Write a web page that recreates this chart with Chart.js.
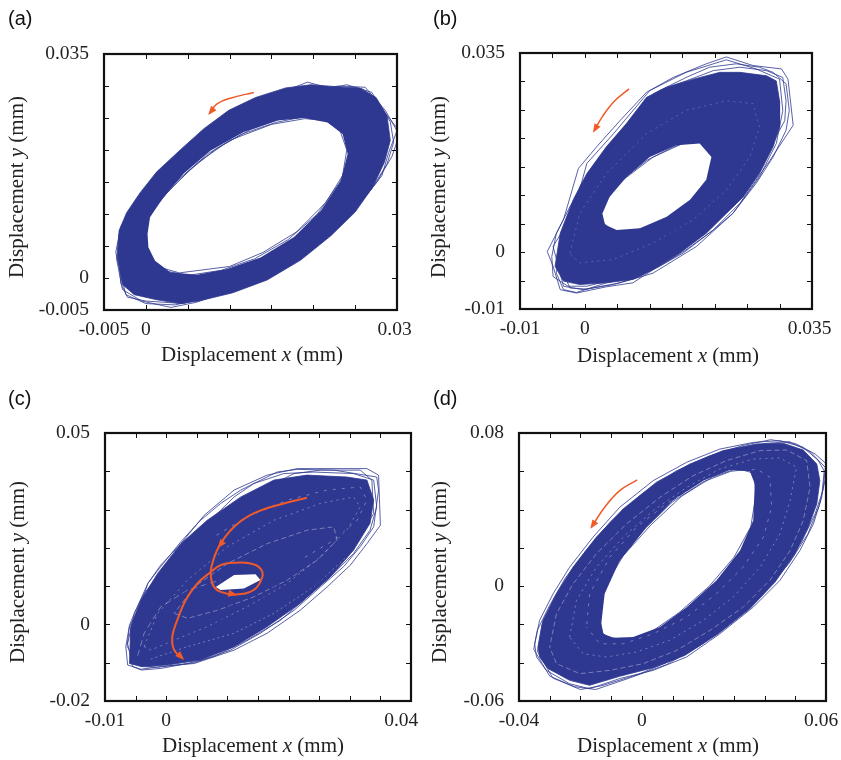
<!DOCTYPE html>
<html>
<head>
<meta charset="utf-8">
<script src="https://cdn.jsdelivr.net/npm/chart.js@4.4.0/dist/chart.umd.min.js"></script>
<style>
  body { margin: 0; background: #fff; }
  #page { position: relative; width: 841px; height: 760px; overflow: hidden; font-family: 'Liberation Serif', 'Times New Roman', serif; color: #222; }
  .panel { position: absolute; width: 440px; height: 380px; }
  .panel canvas { position: absolute; left: 0; top: 0; }
  .tag { position: absolute; font: 20px/20px 'Liberation Sans', Arial, sans-serif; color: #111; }
  .xt { position: absolute; font-size: 21px; line-height: 21px; white-space: nowrap; transform: translateX(-50%); }
  .yt { position: absolute; font-size: 21px; line-height: 21px; white-space: nowrap; transform: translate(-50%, -50%) rotate(-90deg); }
</style>
</head>
<body>
<div id="page">
  <div class="panel" style="left:0;top:0"><canvas id="ca" width="440" height="380"></canvas></div>
  <div class="panel" style="left:420px;top:0"><canvas id="cb" width="421" height="380"></canvas></div>
  <div class="panel" style="left:0;top:380px"><canvas id="cc" width="440" height="380"></canvas></div>
  <div class="panel" style="left:420px;top:380px"><canvas id="cd" width="421" height="380"></canvas></div>

  <div class="tag" style="left:8px;top:8px">(a)</div>
  <div class="tag" style="left:433px;top:8px">(b)</div>
  <div class="tag" style="left:8px;top:388px">(c)</div>
  <div class="tag" style="left:433px;top:388px">(d)</div>

  <div class="xt" style="left:252px;top:344px">Displacement <i>x</i> (mm)</div>
  <div class="xt" style="left:668px;top:345px">Displacement <i>x</i> (mm)</div>
  <div class="xt" style="left:253px;top:735px">Displacement <i>x</i> (mm)</div>
  <div class="xt" style="left:668px;top:735px">Displacement <i>x</i> (mm)</div>

  <div class="yt" style="left:16px;top:187px">Displacement <i>y</i> (mm)</div>
  <div class="yt" style="left:438px;top:187px">Displacement <i>y</i> (mm)</div>
  <div class="yt" style="left:17px;top:572px">Displacement <i>y</i> (mm)</div>
  <div class="yt" style="left:439px;top:572px">Displacement <i>y</i> (mm)</div>
</div>

<script>
const BLUE = '#2E3891';
const ORANGE = '#F05A28';

// ---- panel (a) ----
const aXLabels = [-0.005, 0, 0.03];
const aYLabels = [-0.005, 0, 0.035];
const aOuter = [[-0.0034,0.0032],[-0.0032,0.0074],[-0.0023,0.0102],[-0.0007,0.0133],[0.0013,0.0166],[0.0041,0.0200],[0.0069,0.0233],[0.0099,0.0262],[0.0131,0.0282],[0.0167,0.0297],[0.0197,0.0302],[0.0227,0.0299],[0.0255,0.0297],[0.0275,0.0282],[0.0288,0.0254],[0.0292,0.0215],[0.0285,0.0181],[0.0271,0.0142],[0.0250,0.0103],[0.0221,0.0066],[0.0185,0.0028],[0.0145,-0.0003],[0.0104,-0.0023],[0.0063,-0.0036],[0.0041,-0.0040],[0.0013,-0.0034],[-0.0014,-0.0026],[-0.0028,-0.0010],[-0.0034,0.0032]];
const aHole = [[0.0002,0.0069],[0.0005,0.0095],[0.0021,0.0126],[0.0045,0.0163],[0.0077,0.0199],[0.0117,0.0228],[0.0157,0.0246],[0.0189,0.0250],[0.0217,0.0243],[0.0235,0.0225],[0.0241,0.0194],[0.0233,0.0152],[0.0209,0.0105],[0.0177,0.0064],[0.0137,0.0032],[0.0097,0.0014],[0.0061,0.0005],[0.0029,0.0009],[0.0011,0.0027],[0.0003,0.0048],[0.0002,0.0069]];
const aLoop1 = [[-0.0035,0.0030],[-0.0032,0.0068],[-0.0018,0.0104],[0.0008,0.0145],[0.0040,0.0185],[0.0072,0.0224],[0.0110,0.0262],[0.0150,0.0284],[0.0193,0.0306],[0.0222,0.0296],[0.0258,0.0296],[0.0274,0.0282],[0.0292,0.0244],[0.0296,0.0212],[0.0288,0.0178],[0.0270,0.0140],[0.0244,0.0098],[0.0205,0.0054],[0.0160,0.0014],[0.0110,-0.0016],[0.0060,-0.0038],[0.0030,-0.0046],[-0.0005,-0.0036],[-0.0028,-0.0018],[-0.0035,0.0030]];
const aLoop2 = [[-0.0033,0.0050],[-0.0026,0.0088],[-0.0010,0.0118],[0.0020,0.0158],[0.0055,0.0200],[0.0095,0.0240],[0.0140,0.0270],[0.0180,0.0290],[0.0230,0.0300],[0.0262,0.0298],[0.0286,0.0262],[0.0300,0.0230],[0.0290,0.0196],[0.0282,0.0160],[0.0258,0.0120],[0.0225,0.0078],[0.0190,0.0042],[0.0140,0.0005],[0.0090,-0.0022],[0.0045,-0.0040],[0.0000,-0.0036],[-0.0022,-0.0030],[-0.0030,-0.0008],[-0.0033,0.0050]];
const aLoop3 = [[0.0000,0.0062],[0.0004,0.0098],[0.0024,0.0131],[0.0050,0.0166],[0.0085,0.0203],[0.0125,0.0232],[0.0160,0.0248],[0.0195,0.0252],[0.0222,0.0244],[0.0238,0.0226],[0.0243,0.0188],[0.0232,0.0150],[0.0205,0.0100],[0.0170,0.0060],[0.0130,0.0030],[0.0090,0.0012],[0.0050,0.0004],[0.0020,0.0012],[0.0005,0.0030],[0.0000,0.0062]];
const aLoop4 = [[-0.0004,0.0075],[0.0010,0.0110],[0.0030,0.0140],[0.0062,0.0180],[0.0100,0.0215],[0.0150,0.0240],[0.0190,0.0249],[0.0215,0.0246],[0.0232,0.0230],[0.0240,0.0200],[0.0235,0.0160],[0.0215,0.0118],[0.0180,0.0072],[0.0140,0.0040],[0.0100,0.0018],[0.0040,0.0008],[0.0008,0.0020],[-0.0004,0.0075]];
const aLoop5 = [[-0.0036,0.0040],[-0.0030,0.0080],[-0.0014,0.0112],[0.0010,0.0150],[0.0046,0.0192],[0.0086,0.0232],[0.0124,0.0262],[0.0168,0.0286],[0.0206,0.0292],[0.0240,0.0302],[0.0270,0.0290],[0.0283,0.0262],[0.0304,0.0228],[0.0294,0.0190],[0.0276,0.0150],[0.0250,0.0108],[0.0215,0.0068],[0.0175,0.0030],[0.0125,-0.0006],[0.0075,-0.0030],[0.0035,-0.0042],[0.0000,-0.0040],[-0.0024,-0.0026],[-0.0036,0.0040]];
const aLoop6 = [[-0.0002,0.0050],[0.0000,0.0090],[0.0012,0.0120],[0.0040,0.0155],[0.0075,0.0195],[0.0115,0.0225],[0.0155,0.0243],[0.0200,0.0255],[0.0228,0.0250],[0.0244,0.0228],[0.0250,0.0196],[0.0243,0.0160],[0.0222,0.0110],[0.0190,0.0072],[0.0150,0.0038],[0.0105,0.0012],[0.0060,-0.0002],[0.0025,0.0000],[0.0005,0.0020],[-0.0002,0.0050]];
const aArrow = [[0.0129,0.0290],[0.0101,0.0281],[0.0085,0.0272],[0.0076,0.0257]];

// ---- panel (b) ----
const bXLabels = [-0.01, 0, 0.035];
const bYLabels = [-0.01, 0, 0.035];
const bOuter = [[-0.0046,-0.0025],[-0.0038,0.0033],[-0.0018,0.0092],[0.0003,0.0138],[0.0033,0.0185],[0.0064,0.0226],[0.0095,0.0272],[0.0126,0.0290],[0.0167,0.0304],[0.0208,0.0316],[0.0239,0.0316],[0.0280,0.0310],[0.0295,0.0301],[0.0300,0.0266],[0.0300,0.0220],[0.0290,0.0185],[0.0269,0.0138],[0.0244,0.0097],[0.0218,0.0068],[0.0187,0.0033],[0.0146,-0.0002],[0.0105,-0.0031],[0.0074,-0.0048],[0.0033,-0.0054],[-0.0008,-0.0057],[-0.0033,-0.0051],[-0.0046,-0.0025]];
const bHole = [[0.0027,0.0068],[0.0038,0.0097],[0.0064,0.0132],[0.0100,0.0167],[0.0141,0.0188],[0.0177,0.0191],[0.0195,0.0167],[0.0187,0.0127],[0.0162,0.0092],[0.0126,0.0062],[0.0085,0.0042],[0.0049,0.0039],[0.0031,0.0048],[0.0027,0.0068]];
const bLoop1 = [[-0.0058,0.0001],[-0.0033,0.0057],[-0.0010,0.0147],[0.0018,0.0185],[0.0054,0.0231],[0.0095,0.0281],[0.0136,0.0307],[0.0187,0.0331],[0.0218,0.0343],[0.0259,0.0328],[0.0303,0.0322],[0.0313,0.0304],[0.0321,0.0223],[0.0285,0.0161],[0.0239,0.0086],[0.0198,0.0039],[0.0151,-0.0002],[0.0105,-0.0031],[0.0074,-0.0054],[0.0033,-0.0061],[-0.0013,-0.0072],[-0.0038,-0.0066],[-0.0049,-0.0025],[-0.0058,0.0001]];
const bLoop2 = [[-0.0049,0.0010],[-0.0018,0.0068],[0.0003,0.0156],[0.0044,0.0208],[0.0100,0.0284],[0.0156,0.0316],[0.0218,0.0338],[0.0264,0.0322],[0.0300,0.0304],[0.0305,0.0249],[0.0295,0.0191],[0.0269,0.0132],[0.0228,0.0068],[0.0172,0.0010],[0.0105,-0.0037],[0.0054,-0.0054],[-0.0003,-0.0066],[-0.0033,-0.0060],[-0.0049,0.0010]];
const bLoop3 = [[-0.0013,0.0022],[0.0013,0.0092],[0.0033,0.0127],[0.0080,0.0167],[0.0136,0.0196],[0.0187,0.0208],[0.0218,0.0202],[0.0228,0.0161],[0.0208,0.0115],[0.0177,0.0068],[0.0131,0.0033],[0.0080,0.0016],[0.0033,0.0010],[0.0003,0.0010],[-0.0013,0.0022]];
const bLoop4 = [[0.0023,0.0057],[0.0031,0.0092],[0.0059,0.0127],[0.0105,0.0167],[0.0151,0.0191],[0.0182,0.0194],[0.0198,0.0173],[0.0192,0.0127],[0.0167,0.0092],[0.0126,0.0057],[0.0080,0.0039],[0.0044,0.0036],[0.0023,0.0057]];
const bLoop5 = [[-0.0044,-0.0037],[-0.0038,0.0016],[-0.0013,0.0068],[-0.0008,0.0115],[0.0023,0.0167],[0.0064,0.0220],[0.0105,0.0278],[0.0156,0.0307],[0.0192,0.0325],[0.0233,0.0331],[0.0269,0.0325],[0.0290,0.0316],[0.0310,0.0296],[0.0315,0.0249],[0.0310,0.0214],[0.0290,0.0167],[0.0264,0.0121],[0.0228,0.0068],[0.0198,0.0039],[0.0156,0.0004],[0.0115,-0.0025],[0.0080,-0.0043],[0.0033,-0.0054],[-0.0013,-0.0071],[-0.0033,-0.0066],[-0.0044,-0.0037]];
const bLoop6 = [[0.0018,0.0045],[0.0026,0.0086],[0.0054,0.0124],[0.0095,0.0161],[0.0136,0.0185],[0.0172,0.0199],[0.0208,0.0196],[0.0213,0.0167],[0.0198,0.0127],[0.0172,0.0092],[0.0136,0.0062],[0.0095,0.0039],[0.0054,0.0033],[0.0028,0.0033],[0.0018,0.0045]];
const bLoop7 = [[-0.0051,-0.0008],[-0.0044,0.0033],[-0.0023,0.0080],[0.0003,0.0127],[0.0038,0.0179],[0.0080,0.0226],[0.0115,0.0266],[0.0167,0.0296],[0.0218,0.0307],[0.0259,0.0307],[0.0285,0.0296],[0.0292,0.0255],[0.0285,0.0196],[0.0259,0.0144],[0.0223,0.0092],[0.0182,0.0045],[0.0136,0.0004],[0.0085,-0.0031],[0.0044,-0.0048],[0.0003,-0.0060],[-0.0026,-0.0060],[-0.0049,-0.0043],[-0.0051,-0.0008]];
const bLoop8 = [[-0.0038,-0.0025],[-0.0028,0.0022],[-0.0003,0.0086],[0.0013,0.0138],[0.0054,0.0196],[0.0085,0.0249],[0.0115,0.0284],[0.0156,0.0301],[0.0198,0.0319],[0.0239,0.0325],[0.0280,0.0319],[0.0305,0.0307],[0.0310,0.0266],[0.0308,0.0231],[0.0280,0.0173],[0.0249,0.0115],[0.0208,0.0062],[0.0167,0.0022],[0.0126,-0.0013],[0.0085,-0.0043],[0.0044,-0.0057],[0.0003,-0.0065],[-0.0023,-0.0063],[-0.0038,-0.0025]];
const bWhite1 = [[-0.0023,-0.0002],[-0.0008,0.0068],[0.0033,0.0138],[0.0095,0.0208],[0.0156,0.0249],[0.0218,0.0266],[0.0259,0.0261],[0.0269,0.0220],[0.0254,0.0167],[0.0218,0.0109],[0.0167,0.0057],[0.0105,0.0016],[0.0044,-0.0013],[-0.0008,-0.0019],[-0.0023,-0.0002]];
const bArrow = [[0.0068,0.0287],[0.0046,0.0266],[0.0028,0.0240],[0.0014,0.0213]];

// ---- panel (c) ----
const cXLabels = [-0.01, 0, 0.04];
const cYLabels = [-0.02, 0, 0.05];
const cOuter = [[-0.0060,-0.0102],[-0.0058,-0.0006],[-0.0041,0.0064],[-0.0014,0.0133],[0.0024,0.0211],[0.0067,0.0272],[0.0122,0.0333],[0.0176,0.0377],[0.0230,0.0390],[0.0295,0.0385],[0.0328,0.0377],[0.0339,0.0325],[0.0333,0.0264],[0.0306,0.0194],[0.0268,0.0124],[0.0219,0.0055],[0.0165,-0.0006],[0.0111,-0.0058],[0.0056,-0.0093],[0.0002,-0.0106],[-0.0041,-0.0110],[-0.0060,-0.0102]];
const cHole = [[0.0081,0.0098],[0.0111,0.0129],[0.0146,0.0131],[0.0154,0.0116],[0.0127,0.0094],[0.0089,0.0090],[0.0081,0.0098]];
const cLoop1 = [[-0.0063,-0.0106],[-0.0066,-0.0058],[-0.0060,-0.0002],[-0.0052,0.0029],[-0.0030,0.0107],[-0.0009,0.0155],[0.0024,0.0211],[0.0062,0.0285],[0.0111,0.0351],[0.0165,0.0390],[0.0214,0.0407],[0.0328,0.0407],[0.0347,0.0390],[0.0350,0.0259],[0.0328,0.0211],[0.0301,0.0155],[0.0263,0.0098],[0.0219,0.0037],[0.0165,-0.0023],[0.0111,-0.0067],[0.0046,-0.0102],[-0.0009,-0.0110],[-0.0041,-0.0117],[-0.0063,-0.0106]];
const cLoop2 = [[-0.0058,-0.0023],[-0.0047,0.0037],[-0.0025,0.0098],[0.0013,0.0168],[0.0056,0.0238],[0.0105,0.0298],[0.0154,0.0351],[0.0209,0.0394],[0.0252,0.0403],[0.0317,0.0403],[0.0336,0.0377],[0.0339,0.0290],[0.0317,0.0229],[0.0285,0.0168],[0.0247,0.0107],[0.0203,0.0046],[0.0143,-0.0015],[0.0084,-0.0058],[0.0035,-0.0093],[-0.0025,-0.0110],[-0.0055,-0.0102],[-0.0058,-0.0023]];
const cLoop3 = [[0.0002,0.0011],[0.0035,0.0098],[0.0084,0.0168],[0.0143,0.0220],[0.0209,0.0255],[0.0263,0.0264],[0.0290,0.0238],[0.0274,0.0177],[0.0230,0.0116],[0.0176,0.0064],[0.0111,0.0020],[0.0051,-0.0002],[0.0013,-0.0006],[0.0002,0.0011]];
const cLoop4 = [[-0.0064,-0.0058],[-0.0060,-0.0006],[-0.0041,0.0055],[-0.0030,0.0107],[-0.0009,0.0151],[0.0024,0.0216],[0.0056,0.0272],[0.0089,0.0316],[0.0122,0.0351],[0.0181,0.0398],[0.0214,0.0405],[0.0274,0.0403],[0.0344,0.0385],[0.0347,0.0351],[0.0339,0.0255],[0.0317,0.0203],[0.0290,0.0151],[0.0252,0.0098],[0.0209,0.0037],[0.0154,-0.0023],[0.0105,-0.0067],[0.0046,-0.0100],[-0.0014,-0.0112],[-0.0041,-0.0110],[-0.0064,-0.0058]];
const cLoop5 = [[0.0056,0.0064],[0.0067,0.0116],[0.0100,0.0151],[0.0143,0.0168],[0.0176,0.0151],[0.0181,0.0107],[0.0160,0.0072],[0.0122,0.0050],[0.0078,0.0046],[0.0056,0.0064]];
const cLoop6 = [[-0.0055,-0.0110],[-0.0063,-0.0050],[-0.0052,0.0029],[-0.0036,0.0081],[-0.0014,0.0124],[0.0018,0.0185],[0.0046,0.0229],[0.0078,0.0281],[0.0111,0.0333],[0.0143,0.0368],[0.0192,0.0394],[0.0241,0.0398],[0.0306,0.0394],[0.0339,0.0377],[0.0344,0.0307],[0.0333,0.0246],[0.0306,0.0185],[0.0268,0.0124],[0.0230,0.0072],[0.0187,0.0011],[0.0132,-0.0041],[0.0078,-0.0084],[0.0035,-0.0102],[-0.0009,-0.0115],[-0.0041,-0.0119],[-0.0055,-0.0110]];
const cWhite1 = [[-0.0036,-0.0058],[-0.0014,0.0029],[0.0035,0.0116],[0.0100,0.0203],[0.0176,0.0272],[0.0252,0.0316],[0.0306,0.0333],[0.0317,0.0307],[0.0295,0.0246],[0.0252,0.0177],[0.0198,0.0107],[0.0132,0.0046],[0.0067,-0.0006],[0.0013,-0.0041],[-0.0025,-0.0067],[-0.0036,-0.0058]];
const cWhite2 = [[0.0013,0.0029],[0.0046,0.0098],[0.0100,0.0159],[0.0165,0.0211],[0.0230,0.0246],[0.0274,0.0255],[0.0279,0.0220],[0.0247,0.0168],[0.0198,0.0116],[0.0143,0.0072],[0.0084,0.0037],[0.0035,0.0016],[0.0013,0.0029]];
const cWhite3 = [[0.0078,0.0229],[0.0132,0.0281],[0.0198,0.0325],[0.0263,0.0351],[0.0317,0.0359],[0.0328,0.0325],[0.0312,0.0272],[0.0274,0.0220],[0.0219,0.0168]];
const cWhite4 = [[-0.0047,-0.0084],[-0.0036,-0.0023],[-0.0009,0.0046],[0.0035,0.0090],[0.0089,0.0116]];
const cWhite5 = [[-0.0030,-0.0093],[0.0035,-0.0058],[0.0111,-0.0023],[0.0176,0.0029],[0.0241,0.0098],[0.0295,0.0177]];
const cArrow = [[0.0230,0.0331],[0.0192,0.0316],[0.0143,0.0290],[0.0111,0.0255],[0.0086,0.0203],[0.0074,0.0151],[0.0073,0.0124],[0.0078,0.0098],[0.0089,0.0085],[0.0113,0.0078],[0.0143,0.0090],[0.0157,0.0124],[0.0154,0.0146],[0.0138,0.0159],[0.0111,0.0161],[0.0089,0.0155],[0.0073,0.0137],[0.0051,0.0107],[0.0032,0.0064],[0.0018,0.0011],[0.0010,-0.0032],[0.0013,-0.0067],[0.0027,-0.0089]];

// ---- panel (d) ----
const dXLabels = [-0.04, 0, 0.06];
const dYLabels = [-0.06, 0, 0.08];
const dOuter = [[-0.0338,-0.0318],[-0.0322,-0.0179],[-0.0278,-0.0040],[-0.0224,0.0099],[-0.0148,0.0256],[-0.0061,0.0403],[0.0048,0.0543],[0.0157,0.0638],[0.0265,0.0708],[0.0374,0.0743],[0.0461,0.0746],[0.0526,0.0711],[0.0570,0.0638],[0.0580,0.0551],[0.0570,0.0430],[0.0542,0.0308],[0.0499,0.0169],[0.0434,0.0021],[0.0352,-0.0118],[0.0249,-0.0249],[0.0140,-0.0362],[0.0037,-0.0426],[-0.0072,-0.0471],[-0.0170,-0.0518],[-0.0235,-0.0492],[-0.0305,-0.0431],[-0.0333,-0.0370],[-0.0338,-0.0318]];
const dHole = [[-0.0132,-0.0197],[-0.0121,-0.0040],[-0.0072,0.0134],[0.0015,0.0308],[0.0102,0.0447],[0.0200,0.0551],[0.0287,0.0607],[0.0352,0.0600],[0.0368,0.0534],[0.0363,0.0343],[0.0320,0.0186],[0.0243,0.0030],[0.0146,-0.0110],[0.0059,-0.0214],[-0.0028,-0.0266],[-0.0093,-0.0270],[-0.0126,-0.0249],[-0.0132,-0.0197]];
const dLoop1 = [[-0.0349,-0.0301],[-0.0333,-0.0179],[-0.0289,-0.0040],[-0.0235,0.0099],[-0.0159,0.0256],[-0.0072,0.0412],[0.0037,0.0551],[0.0146,0.0647],[0.0254,0.0716],[0.0363,0.0751],[0.0450,0.0760],[0.0526,0.0725],[0.0575,0.0656],[0.0594,0.0603],[0.0586,0.0464],[0.0559,0.0325],[0.0515,0.0186],[0.0450,0.0030],[0.0363,-0.0110],[0.0254,-0.0249],[0.0146,-0.0370],[0.0037,-0.0440],[-0.0072,-0.0483],[-0.0170,-0.0536],[-0.0235,-0.0510],[-0.0311,-0.0440],[-0.0343,-0.0370],[-0.0349,-0.0301]];
const dLoop2 = [[-0.0340,-0.0340],[-0.0325,-0.0200],[-0.0280,-0.0070],[-0.0215,0.0080],[-0.0130,0.0250],[-0.0040,0.0400],[0.0060,0.0530],[0.0170,0.0630],[0.0290,0.0700],[0.0400,0.0745],[0.0480,0.0755],[0.0550,0.0700],[0.0598,0.0620],[0.0590,0.0500],[0.0565,0.0380],[0.0520,0.0230],[0.0440,0.0060],[0.0340,-0.0100],[0.0230,-0.0250],[0.0110,-0.0380],[-0.0010,-0.0460],[-0.0130,-0.0520],[-0.0200,-0.0540],[-0.0290,-0.0480],[-0.0340,-0.0340]];
const dLoop3 = [[-0.0140,-0.0230],[-0.0130,-0.0060],[-0.0080,0.0120],[0.0010,0.0300],[0.0100,0.0440],[0.0200,0.0545],[0.0290,0.0600],[0.0350,0.0610],[0.0375,0.0540],[0.0370,0.0350],[0.0330,0.0180],[0.0250,0.0020],[0.0150,-0.0120],[0.0060,-0.0220],[-0.0030,-0.0275],[-0.0100,-0.0280],[-0.0140,-0.0230]];
const dLoop4 = [[-0.0352,-0.0330],[-0.0340,-0.0230],[-0.0300,-0.0100],[-0.0250,0.0040],[-0.0180,0.0190],[-0.0100,0.0340],[0.0000,0.0480],[0.0110,0.0600],[0.0220,0.0680],[0.0330,0.0735],[0.0420,0.0765],[0.0500,0.0745],[0.0565,0.0690],[0.0600,0.0640],[0.0598,0.0560],[0.0578,0.0420],[0.0540,0.0270],[0.0480,0.0120],[0.0400,-0.0030],[0.0300,-0.0180],[0.0190,-0.0310],[0.0080,-0.0410],[-0.0040,-0.0480],[-0.0150,-0.0540],[-0.0220,-0.0525],[-0.0300,-0.0470],[-0.0352,-0.0330]];
const dLoop5 = [[-0.0125,-0.0260],[-0.0140,-0.0150],[-0.0120,0.0000],[-0.0060,0.0160],[0.0030,0.0320],[0.0130,0.0470],[0.0230,0.0570],[0.0310,0.0615],[0.0365,0.0590],[0.0372,0.0480],[0.0355,0.0310],[0.0300,0.0150],[0.0220,0.0000],[0.0120,-0.0140],[0.0030,-0.0240],[-0.0050,-0.0285],[-0.0125,-0.0260]];
const dWhite1 = [[-0.0235,-0.0266],[-0.0213,-0.0075],[-0.0148,0.0099],[-0.0061,0.0256],[0.0037,0.0395],[0.0146,0.0516],[0.0254,0.0612],[0.0363,0.0664],[0.0450,0.0670],[0.0504,0.0621],[0.0483,0.0447],[0.0450,0.0273],[0.0385,0.0099],[0.0298,-0.0057],[0.0200,-0.0179],[0.0091,-0.0283],[-0.0017,-0.0344],[-0.0115,-0.0370],[-0.0191,-0.0353],[-0.0235,-0.0266]];
const dWhite2 = [[-0.0300,-0.0318],[-0.0278,-0.0144],[-0.0224,0.0012],[-0.0148,0.0169],[-0.0050,0.0325],[0.0059,0.0464],[0.0167,0.0577],[0.0276,0.0656],[0.0385,0.0708],[0.0472,0.0711],[0.0537,0.0656],[0.0548,0.0516],[0.0526,0.0343],[0.0483,0.0186],[0.0417,0.0030],[0.0330,-0.0110],[0.0222,-0.0231],[0.0113,-0.0336],[0.0004,-0.0405],[-0.0104,-0.0440],[-0.0202,-0.0457],[-0.0278,-0.0405],[-0.0300,-0.0318]];
const dWhite3 = [[-0.0180,-0.0214],[-0.0170,-0.0040],[-0.0104,0.0151],[-0.0017,0.0308],[0.0080,0.0430],[0.0189,0.0534],[0.0287,0.0586],[0.0374,0.0612],[0.0417,0.0569],[0.0423,0.0412],[0.0396,0.0256],[0.0330,0.0099],[0.0243,-0.0040],[0.0146,-0.0162],[0.0037,-0.0249],[-0.0061,-0.0301],[-0.0137,-0.0301],[-0.0180,-0.0214]];
const dArrow = [[-0.0015,0.0555],[-0.0072,0.0499],[-0.0121,0.0412],[-0.0164,0.0308]];

// frame with inward ticks, plus arrow heads
const framePlugin = {
  id: 'frame',
  afterDatasetsDraw(chart) {
    const { ctx, chartArea: a, scales } = chart;
    const x = scales.x, y = scales.y;
    ctx.save();
    ctx.strokeStyle = '#111';
    ctx.lineWidth = 1;
    ctx.beginPath();
    x.ticks.forEach(t => {
      const px = Math.round(x.getPixelForValue(t.value)) + 0.5;
      if (px - a.left < 3 || a.right - px < 3) return;
      ctx.moveTo(px, a.bottom); ctx.lineTo(px, a.bottom - 5);
      ctx.moveTo(px, a.top); ctx.lineTo(px, a.top + 5);
    });
    y.ticks.forEach(t => {
      const py = Math.round(y.getPixelForValue(t.value)) + 0.5;
      if (py - a.top < 3 || a.bottom - py < 3) return;
      ctx.moveTo(a.left, py); ctx.lineTo(a.left + 5, py);
      ctx.moveTo(a.right, py); ctx.lineTo(a.right - 5, py);
    });
    ctx.stroke();
    ctx.lineWidth = 2.2;
    ctx.strokeRect(a.left, a.top, a.right - a.left, a.bottom - a.top);

    chart.data.datasets.forEach((ds, i) => {
      if (!ds.heads) return;
      const pts = chart.getDatasetMeta(i).data;
      ds.heads.forEach(k => {
        const p = pts[k], q = pts[k - 1];
        const ang = Math.atan2(p.y - q.y, p.x - q.x);
        ctx.save();
        ctx.translate(p.x, p.y);
        ctx.rotate(ang);
        ctx.beginPath();
        ctx.moveTo(2, 0); ctx.lineTo(-7, -3.5); ctx.lineTo(-7, 3.5); ctx.closePath();
        ctx.fillStyle = ds.borderColor;
        ctx.fill();
        ctx.restore();
      });
    });
    ctx.restore();
  }
};

// only the end ticks and zero carry a label; pad shifts the last one left a little
function tickText(list, pad) {
  return v => {
    const i = list.findIndex(t => Math.abs(t - v) < 1e-9);
    if (i < 0) return '';
    return String(list[i]) + (i === list.length - 1 ? pad : '');
  };
}

const tickFont = { family: 'Liberation Serif', size: 19.5 };
const dashes = [[2, 4], [5, 3], [3, 6], [6, 4], [2, 3]];

function makePanel(id, width, box, xr, yr, xLabels, yLabels, pad, outer, hole, loops, whites, whiteAlpha, arrow, heads, arrowWidth) {
  const datasets = [];
  datasets.push({ data: arrow, borderColor: ORANGE, borderWidth: arrowWidth, tension: 0.4, heads: heads });
  loops.forEach(l => datasets.push({ data: l, borderColor: BLUE, borderWidth: 0.8 }));
  whites.forEach((w, i) => datasets.push({ data: w, borderColor: 'rgba(255,255,255,' + whiteAlpha + ')', borderWidth: 0.7, borderDash: dashes[i % dashes.length], borderDashOffset: i * 3 }));
  datasets.push({ data: hole, borderColor: 'rgba(0,0,0,0)', borderWidth: 0, backgroundColor: '#fff', fill: 'shape' });
  datasets.push({ data: outer, borderColor: BLUE, borderWidth: 0.8, backgroundColor: BLUE, fill: 'shape' });
  datasets.forEach(d => { d.showLine = true; d.pointRadius = 0; if (d.tension === undefined) d.tension = 0; });

  new Chart(document.getElementById(id), {
    type: 'scatter',
    data: { datasets },
    options: {
      responsive: false,
      animation: false,
      events: [],
      layout: { padding: { left: 0, top: box.top, right: width - box.right, bottom: 0 } },
      plugins: { legend: { display: false }, tooltip: { enabled: false } },
      scales: {
        x: {
          type: 'linear', min: xr[0], max: xr[1],
          grid: { display: false, drawTicks: false },
          border: { display: false },
          ticks: { stepSize: xr[2], autoSkip: false, maxRotation: 0, padding: 8, font: tickFont, color: '#222', callback: tickText(xLabels, pad) },
          afterFit(s) { s.height = 380 - box.bottom; s.paddingLeft = 0; s.paddingRight = 0; }
        },
        y: {
          type: 'linear', min: yr[0], max: yr[1],
          grid: { display: false, drawTicks: false },
          border: { display: false },
          ticks: { stepSize: yr[2], autoSkip: false, padding: 15, font: tickFont, color: '#222', callback: tickText(yLabels, '') },
          afterFit(s) { s.width = box.left; s.paddingTop = 0; s.paddingBottom = 0; }
        }
      }
    },
    plugins: [framePlugin]
  });
}

makePanel('ca', 440, { left: 104, right: 397, top: 54, bottom: 310 }, [-0.005, 0.03, 0.005], [-0.005, 0.035, 0.005],
  aXLabels, aYLabels, '\u2008', aOuter, aHole, [aLoop1, aLoop2, aLoop3, aLoop4, aLoop5, aLoop6], [], 0.5, aArrow, [aArrow.length - 1], 1.5);
makePanel('cb', 421, { left: 100, right: 392, top: 53, bottom: 309 }, [-0.01, 0.035, 0.005], [-0.01, 0.035, 0.005],
  bXLabels, bYLabels, '\u2008', bOuter, bHole, [bLoop1, bLoop2, bLoop3, bLoop4, bLoop5, bLoop6, bLoop7, bLoop8], [bWhite1], 0.3, bArrow, [bArrow.length - 1], 1.5);
makePanel('cc', 440, { left: 105, right: 411, top: 53, bottom: 321 }, [-0.01, 0.04, 0.005], [-0.02, 0.05, 0.01],
  cXLabels, cYLabels, '\u2007\u2007', cOuter, cHole, [cLoop1, cLoop2, cLoop3, cLoop4, cLoop5, cLoop6], [cWhite1, cWhite2, cWhite3, cWhite4, cWhite5], 0.5, cArrow, [4, 9, cArrow.length - 1], 2);
makePanel('cd', 421, { left: 99, right: 406, top: 53, bottom: 321 }, [-0.04, 0.06, 0.01], [-0.06, 0.08, 0.02],
  dXLabels, dYLabels, '\u2007', dOuter, dHole, [dLoop1, dLoop2, dLoop3, dLoop4, dLoop5], [dWhite1, dWhite2, dWhite3], 0.5, dArrow, [dArrow.length - 1], 1.5);
</script>
</body>
</html>
